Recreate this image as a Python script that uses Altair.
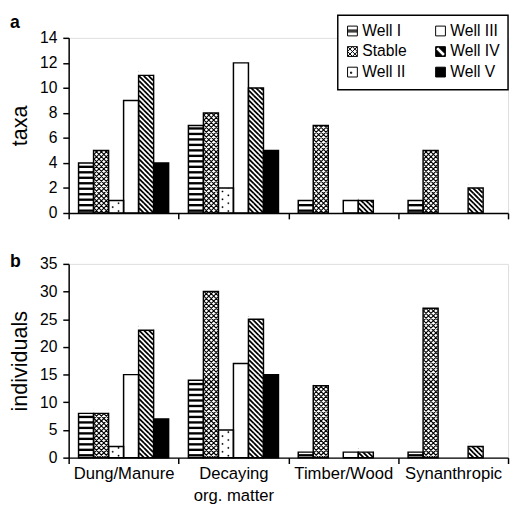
import math
import altair as alt
import pandas as pd

# ---------------- data ----------------
categories = ["Dung/Manure", "Decaying org. matter", "Timber/Wood", "Synanthropic"]
series = ["Well I", "Stable", "Well II", "Well III", "Well IV", "Well V"]

taxa_well_1 = [4, 7, 1, 1]
taxa_stable = [5, 8, 7, 5]
taxa_well_2 = [1, 2, 0, 0]
taxa_well_3 = [9, 12, 1, 0]
taxa_well_4 = [11, 10, 1, 2]
taxa_well_5 = [4, 5, 0, 0]

ind_well_1 = [8, 14, 1, 1]
ind_stable = [8, 30, 13, 27]
ind_well_2 = [2, 5, 0, 0]
ind_well_3 = [15, 17, 1, 0]
ind_well_4 = [23, 25, 1, 2]
ind_well_5 = [7, 15, 0, 0]

taxa_ticks = [0, 2, 4, 6, 8, 10, 12, 14]
ind_ticks = [0, 5, 10, 15, 20, 25, 30, 35]

# ---------------- style / layout ----------------
FONT = "Liberation Sans"
PLOT_W = 449
STEP = PLOT_W / len(categories)
SUB_PAD_OUT = 0.6585
W_SUB = STEP / (len(series) + 2 * SUB_PAD_OUT)   # pixel width of one bar
R = W_SUB / 2.0
TILE_SIZE = W_SUB ** 2


def fmt(v):
    return f"{v / R:.4f}"


def diag_segments(wt, h, p, direction):
    segs = []
    half = wt / 2.0
    c = -half - h
    while c <= half + 1e-9:
        if direction > 0:
            t0 = max(0.0, (-half - c) / h)
            t1 = min(1.0, (half - c) / h)
            if t1 > t0:
                segs.append((c + t0 * h, -h / 2 + t0 * h, c + t1 * h, -h / 2 + t1 * h))
        else:
            t0 = max(0.0, (c + h - half) / h)
            t1 = min(1.0, (c + h + half) / h)
            if t1 > t0:
                segs.append((c + h - t0 * h, -h / 2 + t0 * h, c + h - t1 * h, -h / 2 + t1 * h))
        c += p
    return segs


def seg_path(segs):
    return " ".join(f"M{fmt(a)},{fmt(b)}L{fmt(c)},{fmt(d)}" for a, b, c, d in segs)


WT = W_SUB - 1.0
H_DIAG = 5.0
H_HATCH = 5.0
H_DOT = 8.0
diag_path = seg_path(diag_segments(WT, H_DIAG, H_DIAG, +1))
hatch_path = seg_path(diag_segments(WT, H_HATCH, H_HATCH, +1) + diag_segments(WT, H_HATCH, H_HATCH, -1))
dot_path = " ".join(
    f"M{fmt(x - 0.6)},{fmt(y - 0.6)}L{fmt(x + 0.6)},{fmt(y - 0.6)}L{fmt(x + 0.6)},{fmt(y + 0.6)}L{fmt(x - 0.6)},{fmt(y + 0.6)}Z"
    for x, y in [(-3.5, -2.0), (2.5, 2.0)]
)

# legend symbols, in the order of `series`
legend_shapes = [
    "M-1,-1H1V1H-1Z M-1,-0.2H1 M-1,0H1 M-1,0.2H1",                 # Well I
    "M-1,-1H1V1H-1Z M-1,-1L1,1 M-1,1L1,-1 M-1,0L0,-1L1,0L0,1Z",     # Stable
    "M-1,-1H1V1H-1Z M-0.4,0H-0.15V0.25H-0.4Z",                       # Well II
    "M-1,-1H1V1H-1Z",                                               # Well III
    "M-1,-1H1V1H-1Z M-0.5,-1L-1,-0.5L0.5,1L1,0.5Z",                 # Well IV
    "M-1,-1H1V1H-1Z",                                               # Well V
]
legend_fills = ["white", "white", "white", "white", "black", "black"]

# legend box geometry (pixels, relative to the top-left of panel a's plot area)
LEG_X0, LEG_X1, LEG_Y0, LEG_Y1 = 275, PLOT_W, -23, 53
LEG_SYM_X, LEG_COL_DX, LEG_ROW0, LEG_ROW_DY, LEG_TXT_DX = 290, 90, -7, 21, 10


def frame(lists):
    rows = []
    for s, vals in zip(series, lists):
        for c, v in zip(categories, vals):
            rows.append({"category": c, "series": s, "value": v})
    return pd.DataFrame(rows)


def make_panel(lists, ymax, ticks, height, ytitle, letter, letter_y, bottom, with_legend):
    ppu = height / ymax
    df = frame(lists)
    bars = df[df["value"] > 0].reset_index(drop=True)

    # Well I horizontal stripes
    srows = []
    for _, r in bars[bars["series"] == "Well I"].iterrows():
        k = 0
        while True:
            y0 = (1.2 + 5.6 * k) / ppu
            y1 = y0 + 2.4 / ppu
            if y1 > r["value"] - 1.0 / ppu:
                break
            srows.append({"category": r["category"], "series": r["series"], "y0": y0, "y1": y1})
            k += 1
    stripes = pd.DataFrame(srows)

    def tiles(sname, h):
        rows = []
        for _, r in bars[bars["series"] == sname].iterrows():
            n = math.ceil(r["value"] * ppu / h - 1e-9)
            for k in range(n):
                rows.append({"category": r["category"], "series": sname, "yc": (k + 0.5) * h / ppu})
        return pd.DataFrame(rows)

    mrows = []
    for sname, h in [("Stable", H_HATCH), ("Well II", H_DOT), ("Well IV", H_DIAG)]:
        for _, r in bars[bars["series"] == sname].iterrows():
            mrows.append({"category": r["category"], "series": sname,
                          "m0": r["value"], "m1": r["value"] + (h + 2) / ppu})
    masks = pd.DataFrame(mrows)

    if bottom:
        x_axis = alt.Axis(title=None, labelAngle=0, labelFontSize=17, labelColor="black",
                          labelPadding=2, labelLineHeight=23, labelFont=FONT,
                          labelExpr="datum.value == 'Decaying org. matter' ? ['Decaying', 'org. matter'] : datum.label",
                          tickBand="extent", tickSize=6, tickWidth=1.5, tickColor="black",
                          domainColor="black", domainWidth=1.5, zindex=1)
    else:
        x_axis = alt.Axis(title=None, labels=False, tickBand="extent", tickSize=6, tickWidth=1.5,
                          tickColor="black", domainColor="black", domainWidth=1.5, zindex=1)
    y_axis = alt.Axis(title=ytitle, values=ticks, grid=False, titleFontSize=22, titleFontWeight="normal",
                      titleColor="black", titleFont=FONT, titlePadding=8,
                      labelFontSize=16, labelColor="black", labelPadding=6, labelFont=FONT,
                      tickSize=6, tickWidth=1.5, tickColor="black",
                      domainColor="black", domainWidth=1.5, zindex=1)
    x_scale = alt.Scale(domain=categories, paddingInner=0, paddingOuter=0)
    xo_scale = alt.Scale(domain=series, paddingInner=0, paddingOuter=SUB_PAD_OUT)
    y_scale = alt.Scale(domain=[0, ymax], nice=False)

    def X():
        return alt.X("category:N", scale=x_scale, axis=x_axis)

    def XO():
        return alt.XOffset("series:N", scale=xo_scale)

    def Y(field):
        return alt.Y(f"{field}:Q", scale=y_scale, axis=y_axis)

    base = alt.Chart(bars).mark_bar(strokeWidth=0).encode(
        x=X(), xOffset=XO(), y=Y("value"),
        fill=alt.condition("datum.series == 'Well V'", alt.value("black"), alt.value("white")),
    )
    stripe_layer = alt.Chart(stripes).mark_bar(fill="black", strokeWidth=0).encode(
        x=X(), xOffset=XO(), y=Y("y0"), y2="y1:Q"
    )
    hatch_layer = alt.Chart(tiles("Stable", H_HATCH)).mark_point(
        shape=hatch_path, size=TILE_SIZE, filled=False, stroke="black", strokeWidth=1.1, opacity=1
    ).encode(x=X(), xOffset=XO(), y=Y("yc"))
    dot_layer = alt.Chart(tiles("Well II", H_DOT)).mark_point(
        shape=dot_path, size=TILE_SIZE, filled=True, fill="black", stroke="black", strokeWidth=0.4, opacity=1
    ).encode(x=X(), xOffset=XO(), y=Y("yc"))
    diag_layer = alt.Chart(tiles("Well IV", H_DIAG)).mark_point(
        shape=diag_path, size=TILE_SIZE, filled=False, stroke="black", strokeWidth=1.8, opacity=1
    ).encode(x=X(), xOffset=XO(), y=Y("yc"))
    mask_layer = alt.Chart(masks).mark_bar(fill="white", strokeWidth=0).encode(
        x=X(), xOffset=XO(), y=Y("m0"), y2="m1:Q"
    )
    outline = alt.Chart(bars).mark_bar(fillOpacity=0, stroke="black", strokeWidth=1.5).encode(
        x=X(), xOffset=XO(), y=Y("value")
    )
    letter_layer = alt.Chart(pd.DataFrame({"t": [letter]})).mark_text(
        font=FONT, fontSize=18, fontWeight="bold", color="black", align="left", baseline="alphabetic"
    ).encode(x=alt.value(-60), y=alt.value(letter_y), text="t:N")
    layers = [base, stripe_layer, hatch_layer, dot_layer, diag_layer, mask_layer, outline, letter_layer]

    if with_legend:
        leg_df = pd.DataFrame({"series": series,
                               "row": [i % 3 for i in range(len(series))],
                               "col": [i // 3 for i in range(len(series))]})
        sym_x = {"value": {"expr": f"{LEG_SYM_X} + datum.col * {LEG_COL_DX}"}}
        txt_x = {"value": {"expr": f"{LEG_SYM_X + LEG_TXT_DX} + datum.col * {LEG_COL_DX}"}}
        row_y = {"value": {"expr": f"{LEG_ROW0} + datum.row * {LEG_ROW_DY}"}}
        box = alt.Chart(pd.DataFrame({"k": [0]})).mark_rect(
            fill="white", stroke="black", strokeWidth=1.5
        ).encode(x=alt.value(LEG_X0), x2=alt.value(LEG_X1), y=alt.value(LEG_Y0), y2=alt.value(LEG_Y1))
        symbols = alt.Chart(leg_df).mark_point(
            size=100, filled=False, stroke="black", strokeWidth=1, opacity=1
        ).encode(
            x=sym_x, y=row_y,
            shape=alt.Shape("series:N", scale=alt.Scale(domain=series, range=legend_shapes), legend=None),
            fill=alt.Fill("series:N", scale=alt.Scale(domain=series, range=legend_fills), legend=None),
        )
        labels = alt.Chart(leg_df).mark_text(
            font=FONT, fontSize=16, color="black", align="left", baseline="middle"
        ).encode(x=txt_x, y=row_y, text="series:N")
        layers += [box, symbols, labels]

    return alt.layer(*layers).properties(width=PLOT_W, height=height)


panel_a = make_panel([taxa_well_1, taxa_stable, taxa_well_2, taxa_well_3, taxa_well_4, taxa_well_5],
                     14, taxa_ticks, 179, "taxa", "a", -10, False, True)
panel_b = make_panel([ind_well_1, ind_stable, ind_well_2, ind_well_3, ind_well_4, ind_well_5],
                     35, ind_ticks, 198, "individuals", "b", 3, True, False)

chart = alt.vconcat(panel_a, panel_b, spacing=31).resolve_scale(y="independent").properties(
    padding={"left": 0, "top": 0, "right": 0, "bottom": 0}
).configure_view(strokeWidth=0).configure(font=FONT, background="white")

chart.save("out.html", embed_options={"renderer": "svg", "actions": False})
